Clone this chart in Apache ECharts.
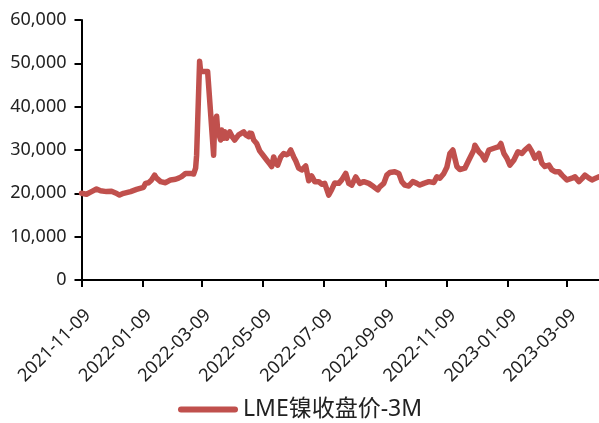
<!DOCTYPE html>
<html>
<head>
<meta charset="utf-8">
<script src="https://cdn.jsdelivr.net/npm/echarts@6/dist/echarts.min.js"></script>
<style>
  html, body { margin: 0; padding: 0; background: #fff; }
  #chart { width: 599px; height: 423px; }
</style>
</head>
<body>
<div id="chart"></div>
<script>
// LME nickel 3M closing price (USD/t)
const seriesName = 'LME镍收盘价-3M';

const dates = [
  '2021-11-09', '2021-11-14', '2021-11-19', '2021-11-24', '2021-11-28',
  '2021-12-04', '2021-12-09', '2021-12-13', '2021-12-17', '2021-12-21', '2021-12-28',
  '2022-01-03', '2022-01-10', '2022-01-12', '2022-01-15', '2022-01-18', '2022-01-21', '2022-01-23', '2022-01-27',
  '2022-02-01', '2022-02-06', '2022-02-11', '2022-02-14', '2022-02-17', '2022-02-21', '2022-02-26',
  '2022-03-01', '2022-03-03', '2022-03-04', '2022-03-07', '2022-03-08', '2022-03-15', '2022-03-16',
  '2022-03-21', '2022-03-22', '2022-03-24', '2022-03-25', '2022-03-28', '2022-03-29', '2022-03-31',
  '2022-04-01', '2022-04-03', '2022-04-06', '2022-04-09', '2022-04-11', '2022-04-15', '2022-04-20',
  '2022-04-22', '2022-04-25', '2022-04-26', '2022-04-28', '2022-04-30',
  '2022-05-03', '2022-05-06', '2022-05-09', '2022-05-13', '2022-05-16', '2022-05-18', '2022-05-20',
  '2022-05-22', '2022-05-24', '2022-05-27', '2022-05-30',
  '2022-06-02', '2022-06-04', '2022-06-06', '2022-06-09', '2022-06-11', '2022-06-14', '2022-06-17',
  '2022-06-21', '2022-06-24', '2022-06-27', '2022-06-30',
  '2022-07-04', '2022-07-07', '2022-07-10', '2022-07-14', '2022-07-17', '2022-07-20', '2022-07-24',
  '2022-07-27', '2022-07-31',
  '2022-08-03', '2022-08-06', '2022-08-10', '2022-08-14', '2022-08-18', '2022-08-23', '2022-08-28',
  '2022-09-01', '2022-09-03', '2022-09-07', '2022-09-10', '2022-09-13', '2022-09-18', '2022-09-22',
  '2022-09-25', '2022-09-28',
  '2022-10-02', '2022-10-06', '2022-10-10', '2022-10-13', '2022-10-17', '2022-10-22', '2022-10-27',
  '2022-10-30',
  '2022-11-02', '2022-11-06', '2022-11-09', '2022-11-12', '2022-11-15', '2022-11-19', '2022-11-22',
  '2022-11-27',
  '2022-12-01', '2022-12-06', '2022-12-07', '2022-12-11', '2022-12-14', '2022-12-17', '2022-12-21',
  '2022-12-26', '2022-12-31',
  '2023-01-02', '2023-01-05', '2023-01-08', '2023-01-11', '2023-01-15', '2023-01-19', '2023-01-23',
  '2023-01-26', '2023-01-30',
  '2023-02-02', '2023-02-05', '2023-02-09', '2023-02-12', '2023-02-15', '2023-02-19', '2023-02-22',
  '2023-02-25',
  '2023-03-01', '2023-03-04', '2023-03-09', '2023-03-14', '2023-03-17', '2023-03-21', '2023-03-24',
  '2023-03-27', '2023-03-31',
  '2023-04-03', '2023-04-06', '2023-04-10'
];

const prices = [
  20000, 19800, 20400, 21000, 20600,
  20400, 20500, 20100, 19600, 20000, 20400,
  20900, 21400, 22300, 22450, 23100, 24200, 23500, 22700,
  22450, 23100, 23250, 23500, 23850, 24600, 24600,
  24450, 25800, 28800, 50500, 48100, 48100, 47800,
  28800, 36000, 37800, 34600, 32300, 34600, 32700,
  34200, 32700, 34200, 32900, 32300, 33500, 34200,
  33500, 33100, 33900, 33800, 32300,
  31500, 29800, 28900, 27700, 26800, 26200, 28400,
  26900, 26500, 28400, 29200,
  28900, 29200, 30000, 28400, 27500, 25800, 25400,
  26300, 22900, 24000, 22700,
  22700, 22100, 22300, 19600, 20900, 22400, 22300,
  23100, 24600,
  22300, 21900, 23800, 22300, 22700, 22300, 21500,
  20800, 21500, 22300, 24200, 24800, 25000, 24600,
  22700, 21900,
  21700, 22700, 22300, 21900, 22300, 22700, 22500,
  23800,
  23500, 24600, 26000, 29200, 30000, 26200, 25500,
  25800,
  27700, 30000, 31100, 29600, 28900, 27700, 30000,
  30400, 30800,
  31500, 29200, 28100, 26500, 27700, 29600, 29200,
  30000, 30800,
  29600, 28100, 29200, 26900, 26200, 26500, 25400,
  25000,
  25000, 24200, 23100, 23500, 23800, 22700, 23400,
  24200, 23500,
  23100, 23400, 23800
];

// x-axis: bimonthly tick dates; y-axis: price range
const xTickDates = [
  '2021-11-09', '2022-01-09', '2022-03-09', '2022-05-09', '2022-07-09',
  '2022-09-09', '2022-11-09', '2023-01-09', '2023-03-09'
];
const xStart = '2021-11-09';
const xEnd = '2023-04-10';
const yMin = 0;
const yMax = 60000;
const yStep = 10000;

// dates are placed on a linear day scale (UTC midnight timestamps)
const toTime = s => Date.parse(s + 'T00:00:00Z');
const fmtDate = t => new Date(t).toISOString().slice(0, 10);
const lineData = dates.map((d, i) => [toTime(d), prices[i]]);
const tickTimes = xTickDates.map(toTime);

const FONT = '"Noto Sans", "Noto Sans CJK SC", sans-serif';
const LINE_COLOR = '#C0504D';
const chart = echarts.init(document.getElementById('chart'), null, { renderer: 'canvas' });

chart.setOption({
  animation: false,
  backgroundColor: '#ffffff',
  grid: {
    left: 81.5, right: 0, top: 20, bottom: 143,
    containLabel: false,
    outerBoundsMode: 'none'
  },
  legend: {
    left: 173,
    top: 393,
    itemWidth: 60,
    itemHeight: 6,
    icon: 'path://M3,0 H57 A3,3 0 0 1 57,6 H3 A3,3 0 0 1 3,0 Z',
    itemStyle: { color: LINE_COLOR },
    textStyle: { fontFamily: FONT, fontSize: 23, color: '#222' },
    data: [seriesName]
  },
  xAxis: {
    type: 'value',
    min: toTime(xStart),
    max: toTime(xEnd),
    splitLine: { show: false },
    axisLine: { show: true, lineStyle: { color: '#000', width: 2 } },
    axisTick: {
      show: true, length: 7, inside: false,
      customValues: tickTimes,
      lineStyle: { color: '#000', width: 2 }
    },
    minorTick: { show: false },
    axisLabel: {
      customValues: tickTimes,
      rotate: 45,
      margin: 26,
      verticalAlign: 'top',
      fontFamily: FONT,
      fontSize: 18,
      color: '#222',
      formatter: v => fmtDate(v)
    }
  },
  yAxis: {
    type: 'value',
    min: yMin,
    max: yMax,
    interval: yStep,
    splitLine: { show: false },
    axisLine: { show: true, lineStyle: { color: '#000', width: 2 } },
    axisTick: { show: true, length: 7, inside: false, lineStyle: { color: '#000', width: 2 } },
    axisLabel: {
      margin: 15,
      fontFamily: FONT,
      fontSize: 18,
      color: '#222',
      formatter: v => v.toLocaleString('en-US')
    }
  },
  series: [{
    name: seriesName,
    type: 'line',
    data: lineData,
    showSymbol: false,
    symbol: 'none',
    smooth: false,
    color: LINE_COLOR,
    lineStyle: { color: LINE_COLOR, width: 5.5, cap: 'round', join: 'round' }
  }]
});
</script>
</body>
</html>
